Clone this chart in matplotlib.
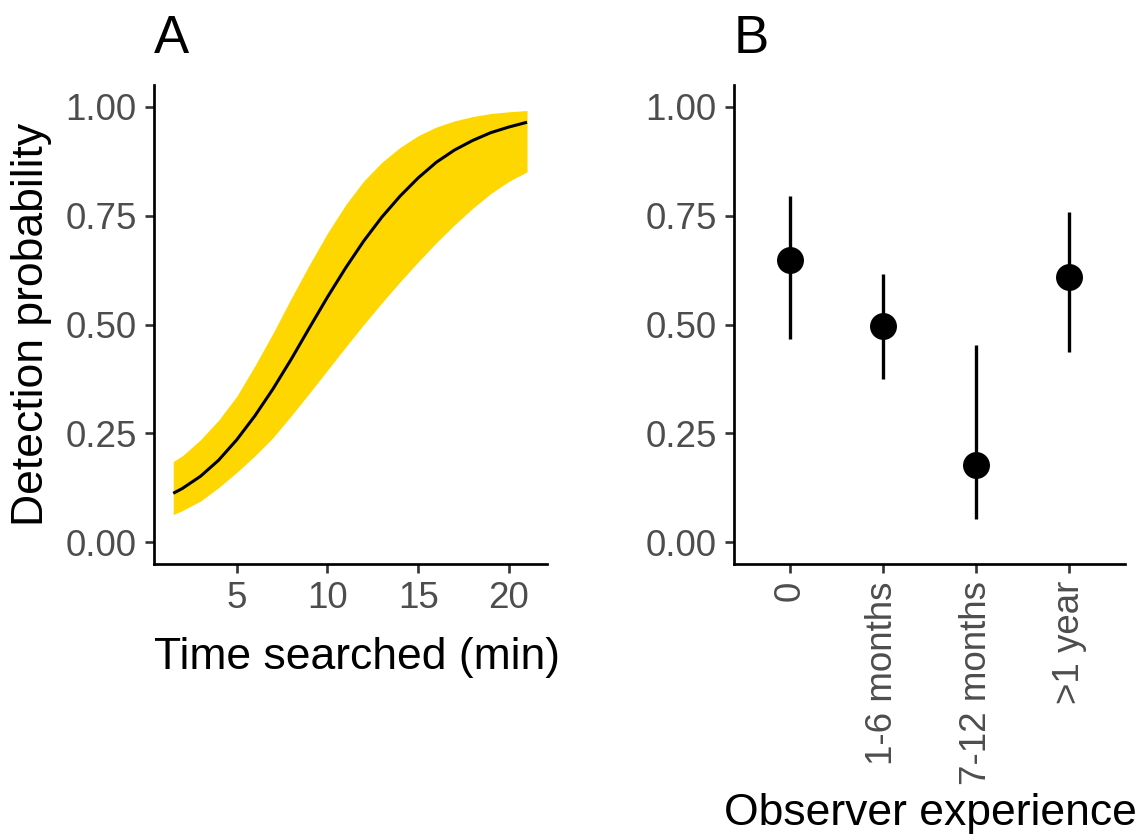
import matplotlib
matplotlib.use("Agg")
import matplotlib.pyplot as plt

plt.rcParams['font.family'] = ['Liberation Sans', 'DejaVu Sans']

# Panel A: fitted detection probability vs. time searched, with 95% band
time_min = [1.5, 2, 3, 4, 5, 6, 7, 8, 9, 10, 11, 12, 13, 14, 15, 16, 17, 18, 19, 20, 21]
p_fit = [0.112, 0.123, 0.151, 0.188, 0.235, 0.290, 0.352, 0.420, 0.492, 0.563, 0.630,
         0.692, 0.747, 0.795, 0.837, 0.873, 0.901, 0.923, 0.941, 0.954, 0.965]
p_upper = [0.185, 0.198, 0.235, 0.280, 0.335, 0.405, 0.480, 0.560, 0.637, 0.710, 0.775,
           0.830, 0.873, 0.907, 0.934, 0.954, 0.968, 0.978, 0.985, 0.989, 0.992]
p_lower = [0.063, 0.072, 0.094, 0.125, 0.160, 0.198, 0.240, 0.290, 0.342, 0.395, 0.448,
           0.500, 0.550, 0.598, 0.644, 0.688, 0.729, 0.767, 0.801, 0.829, 0.851]

# Panel B: detection probability by observer experience
experience = ['0', '1-6 months', '7-12 months', '>1 year']
p_exp = [0.649, 0.496, 0.178, 0.609]
p_exp_low = [0.467, 0.375, 0.054, 0.436]
p_exp_high = [0.795, 0.617, 0.453, 0.758]

y_ticks = [0.00, 0.25, 0.50, 0.75, 1.00]
y_ticklabels = ['0.00', '0.25', '0.50', '0.75', '1.00']
x_ticks_a = [5, 10, 15, 20]

W, H = 1141, 836
fig = plt.figure(figsize=(W / 100, H / 100), dpi=100)

def px_axes(x0, x1, ytop, ybot):
    return fig.add_axes([x0 / W, 1 - ybot / H, (x1 - x0) / W, (ybot - ytop) / H])

axA = px_axes(154, 547, 85.25, 563.75)
axB = px_axes(734, 1125, 85.25, 563.75)

TICK_FS = 26.5
TITLE_FS = 32
TAG_FS = 38
TICK_COLOR = '#4D4D4D'

for ax in (axA, axB):
    for side in ('top', 'right'):
        ax.spines[side].set_visible(False)
    for side in ('left', 'bottom'):
        ax.spines[side].set_linewidth(1.95)
        ax.spines[side].set_color('black')
    ax.tick_params(axis='both', length=6.5, width=1.9, color='#333333',
                   labelcolor=TICK_COLOR, labelsize=TICK_FS, pad=6)
    ax.set_ylim(-0.05, 1.05)
    ax.set_yticks(y_ticks)
    ax.set_yticklabels(y_ticklabels)
    ax.set_facecolor('white')

# Panel A
axA.fill_between(time_min, p_lower, p_upper, color='#FFD700', linewidth=0)
axA.plot(time_min, p_fit, color='black', linewidth=2.2,
         solid_joinstyle='round', solid_capstyle='butt')
axA.set_xlim(0.44, 22.1)
axA.set_xticks(x_ticks_a)
axA.set_xticklabels([str(v) for v in x_ticks_a])

# Panel B
xpos = list(range(1, len(experience) + 1))
axB.vlines(xpos, p_exp_low, p_exp_high, color='black', linewidth=2.4)
axB.plot(xpos, p_exp, 'o', color='black', markersize=19.4, markeredgewidth=0)
axB.set_xlim(0.4, 4.6)
axB.set_xticks(xpos)
axB.set_xticklabels(experience, rotation=90, ha='center', va='top')

# Titles and tags
fig.text(32 / W, 1 - 324.5 / H, 'Detection probability', rotation=90,
         ha='center', va='center', fontsize=TITLE_FS, color='black')
fig.text(357 / W, 1 - 657 / H, 'Time searched (min)',
         ha='center', va='center', fontsize=TITLE_FS, color='black')
fig.text(930 / W, 1 - 814 / H, 'Observer experience',
         ha='center', va='center', fontsize=TITLE_FS, color='black')
fig.text(154 / W, 1 - 53 / H, 'A', ha='left', va='baseline',
         fontsize=TAG_FS, color='black')
fig.text(734 / W, 1 - 53 / H, 'B', ha='left', va='baseline',
         fontsize=TAG_FS, color='black')

fig.savefig('out.png', dpi=100, facecolor='white')
